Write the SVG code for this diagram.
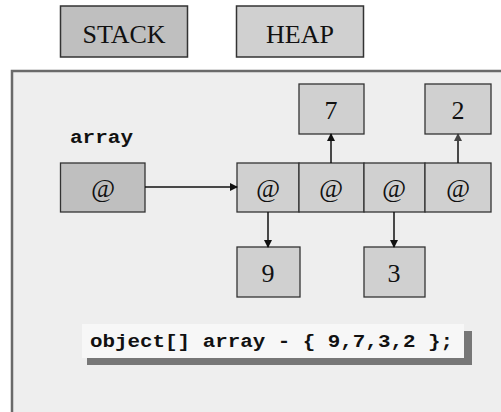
<svg xmlns="http://www.w3.org/2000/svg" width="501" height="412" viewBox="0 0 501 412">
<defs>
<style>
.lbl{font-family:"Liberation Serif","Times New Roman",serif;fill:#111;text-anchor:middle}
.mono{font-family:"Liberation Mono","Courier New",monospace;font-weight:bold;fill:#111}
.box{stroke:#333;stroke-width:1.5}
.cell{fill:#d0d0d0;stroke:#333;stroke-width:1.3}
.conn{stroke:#111;stroke-width:1.5;fill:none}
</style>
<marker id="ah" markerWidth="8" markerHeight="8" refX="7" refY="4" orient="auto" markerUnits="userSpaceOnUse">
<path d="M0,0 L8,4 L0,8 Z" fill="#111"/>
</marker>
<marker id="ahg" markerWidth="8" markerHeight="8" refX="7" refY="4" orient="auto" markerUnits="userSpaceOnUse">
<path d="M0,0 L8,4 L0,8 Z" fill="#444"/>
</marker>
</defs>
<rect width="501" height="412" fill="#ffffff"/>
<g id="stack-label">
<rect x="60.5" y="6" width="127" height="51" fill="#bfbfbf" class="box"/>
<text x="124" y="43" class="lbl" font-size="26">STACK</text>
</g>
<g id="heap-label">
<rect x="236.5" y="6" width="127" height="51" fill="#d0d0d0" class="box"/>
<text x="300" y="43" class="lbl" font-size="26">HEAP</text>
</g>
<g id="panel">
<rect x="12" y="71" width="495" height="345" fill="#eeeeee" stroke="#6a6a6a" stroke-width="2.5"/>
</g>
<g id="array-var">
<text x="70" y="143" class="mono" font-size="18" textLength="63" lengthAdjust="spacingAndGlyphs">array</text>
<rect x="60.5" y="163" width="84.5" height="49" fill="#bfbfbf" stroke="#333" stroke-width="1.3"/>
<text x="103" y="197" class="lbl" font-size="26" font-style="italic">@</text>
</g>
<g id="array-cells">
<rect x="237" y="163" width="62" height="49" class="cell"/>
<rect x="299" y="163" width="65" height="49" class="cell"/>
<rect x="364" y="163" width="61" height="49" class="cell"/>
<rect x="425" y="163" width="66" height="49" class="cell"/>
<text x="268" y="197" class="lbl" font-size="26" font-style="italic">@</text>
<text x="331" y="197" class="lbl" font-size="26" font-style="italic">@</text>
<text x="394" y="197" class="lbl" font-size="26" font-style="italic">@</text>
<text x="458" y="197" class="lbl" font-size="26" font-style="italic">@</text>
</g>
<g id="val-7">
<rect x="299" y="84" width="65" height="50" class="cell"/>
<text x="331" y="119" class="lbl" font-size="26">7</text>
</g>
<g id="val-2">
<rect x="425" y="84" width="66" height="50" class="cell"/>
<text x="458" y="119" class="lbl" font-size="26">2</text>
</g>
<g id="val-9">
<rect x="237" y="247" width="63" height="50" class="cell"/>
<text x="268" y="282" class="lbl" font-size="26">9</text>
</g>
<g id="val-3">
<rect x="364" y="247" width="61" height="50" class="cell"/>
<text x="394" y="282" class="lbl" font-size="26">3</text>
</g>
<g id="connectors">
<line x1="145" y1="187" x2="237" y2="187" class="conn" marker-end="url(#ah)"/>
<line x1="268" y1="212" x2="268" y2="247" class="conn" marker-end="url(#ah)"/>
<line x1="331" y1="163" x2="331" y2="134" class="conn" marker-end="url(#ah)"/>
<line x1="394" y1="212" x2="394" y2="247" class="conn" stroke-width="2" marker-end="url(#ah)"/>
<line x1="458" y1="163" x2="458" y2="134" class="conn" stroke="#555" marker-end="url(#ahg)"/>
</g>
<g id="code">
<rect x="87" y="331" width="385" height="34" fill="#777777"/>
<rect x="82" y="324" width="382" height="34" fill="#f7f7f7"/>
<text x="90" y="347" class="mono" font-size="18" textLength="363" lengthAdjust="spacingAndGlyphs">object[] array - { 9,7,3,2 };</text>
</g>
</svg>
